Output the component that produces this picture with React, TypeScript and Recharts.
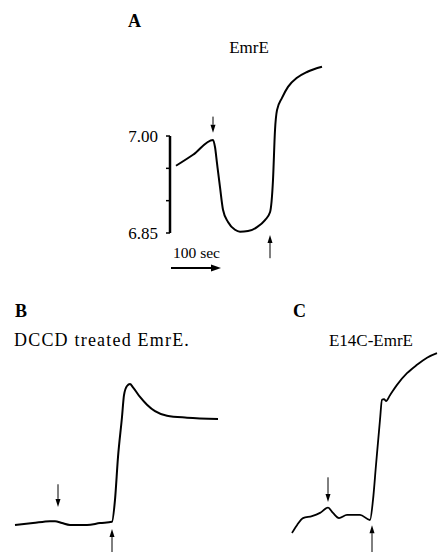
import React from 'react';
import { LineChart, Line, XAxis, YAxis, ReferenceLine } from 'recharts';

const FONT = '"Liberation Serif", "Times New Roman", serif';
const INK = '#000';

// Panel A - EmrE (time in sec, pH)
const emrTime = [12, 46, 86, 90, 94, 100, 106, 116, 130, 140, 156, 174, 190, 200, 206, 210, 214, 224, 236, 254, 274, 304];
const emrPH = [6.954, 6.971, 6.994, 6.983, 6.958, 6.921, 6.886, 6.867, 6.855, 6.852, 6.853, 6.859, 6.870, 6.882, 6.932, 7.009, 7.040, 7.059, 7.076, 7.090, 7.099, 7.107];
const emrTicks = [6.85, 6.9, 6.95, 7.0];
const emrLabels: Record<string, string> = { '7': '7.00', '6.85': '6.85' };

// Panel B - DCCD treated EmrE (time in sec, delta pH)
const dccdTime = [30, 66, 100, 110, 124, 140, 174, 200, 224, 230, 236, 244, 248, 254, 260, 266, 280, 294, 310, 334, 374, 436];
const dccdDelta = [0, 0.003, 0.006, 0.006, 0.003, 0, 0, 0.003, 0.005, 0.039, 0.105, 0.167, 0.201, 0.215, 0.218, 0.213, 0.198, 0.186, 0.176, 0.169, 0.166, 0.164];

// Panel C - E14C-EmrE (time in sec, delta pH)
const e14cTime = [104, 114, 126, 144, 160, 176, 186, 198, 214, 240, 260, 266, 272, 280, 284, 288, 292, 300, 314, 334, 354, 374, 394];
const e14cDelta = [-0.020, -0.008, 0.003, 0.006, 0.011, 0.019, 0.011, 0.003, 0.008, 0.008, 0, 0.031, 0.085, 0.155, 0.186, 0.187, 0.184, 0.193, 0.209, 0.227, 0.240, 0.251, 0.258];

// additions (arrow position in sec, arrow from / to value)
const arrowsA = [{ t: 86, from: 7.030, to: 7.005 }, { t: 200, from: 6.811, to: 6.847 }];
const arrowsB = [{ t: 116, from: 0.063, to: 0.028 }, { t: 224, from: -0.042, to: -0.006 }];
const arrowsC = [{ t: 176, from: 0.066, to: 0.028 }, { t: 264, from: -0.050, to: -0.008 }];

const toRows = (xs: number[], ys: number[]) => xs.map((t, i) => ({ t, v: ys[i] }));

const Arrow = (props: any) => {
  const { x1, y1, x2, y2, head = 8, half = 2.5, width = 1 } = props;
  const dx = x2 - x1, dy = y2 - y1;
  const len = Math.sqrt(dx * dx + dy * dy) || 1;
  const ux = dx / len, uy = dy / len;
  const bx = x2 - ux * head, by = y2 - uy * head;
  return (
    <g>
      <line x1={x1} y1={y1} x2={bx} y2={by} stroke={INK} strokeWidth={width} />
      <polygon
        points={`${x2},${y2} ${bx - uy * half},${by + ux * half} ${bx + uy * half},${by - ux * half}`}
        fill={INK}
      />
    </g>
  );
};

const ScaleBar = (props: any) => (
  <g>
    <Arrow {...props} head={10} half={3.5} width={2} />
    <text x={props.x1 + 2} y={props.y1 - 10} fontFamily={FONT} fontSize={15.5} fill={INK}>100 sec</text>
  </g>
);

const arrowLines = (list: { t: number; from: number; to: number }[]) =>
  list.map((a, i) => (
    <ReferenceLine
      key={`arr-${i}`}
      segment={[{ x: a.t, y: a.from }, { x: a.t, y: a.to }]}
      ifOverflow="visible"
      shape={(p: any) => <Arrow {...p} />}
    />
  ));

const Title = ({ x, y, children, bold = false, anchor = 'start', spacing = 0, size = 17 }: any) => (
  <text x={x} y={y} fontFamily={FONT} fontSize={size} fontWeight={bold ? 700 : 400}
    textAnchor={anchor} letterSpacing={spacing} fill={INK}>
    {children}
  </text>
);

export default function App() {
  const rowsA = toRows(emrTime, emrPH);
  const rowsB = toRows(dccdTime, dccdDelta);
  const rowsC = toRows(e14cTime, e14cDelta);
  return (
    <div style={{ position: 'absolute', left: 0, top: 0, width: 438, height: 552, background: '#fff', overflow: 'hidden' }}>
      <div style={{ position: 'absolute', left: 100, top: 40 }}>
        <LineChart width={230} height={240} data={rowsA} margin={{ top: 0, right: 0, bottom: 0, left: 0 }}>
          <XAxis type="number" dataKey="t" domain={[0, 320]} allowDataOverflow hide />
          <YAxis
            type="number"
            domain={[6.7773, 7.1485]}
            allowDataOverflow
            width={70}
            ticks={emrTicks}
            interval={0}
            axisLine={false}
            tickSize={4}
            tickMargin={8}
            tickLine={{ stroke: INK, strokeWidth: 1.5 }}
            tick={{ fontFamily: FONT, fontSize: 17, fill: INK }}
            tickFormatter={(v: number) => emrLabels[String(v)] || ''}
          />
          <ReferenceLine segment={[{ x: 0, y: 6.85 }, { x: 0, y: 7.0 }]} stroke={INK} strokeWidth={2.5} ifOverflow="visible" />
          <Line type="monotone" dataKey="v" stroke={INK} strokeWidth={2} dot={false} isAnimationActive={false} />
          {arrowLines(arrowsA)}
          <ReferenceLine
            segment={[{ x: 2, y: 6.796 }, { x: 102, y: 6.796 }]}
            ifOverflow="visible"
            shape={(p: any) => <ScaleBar {...p} />}
          />
        </LineChart>
      </div>

      <div style={{ position: 'absolute', left: 0, top: 360 }}>
        <LineChart width={230} height={192} data={rowsB} margin={{ top: 0, right: 0, bottom: 0, left: 0 }}>
          <XAxis type="number" dataKey="t" domain={[0, 460]} allowDataOverflow hide />
          <YAxis type="number" domain={[-0.04175, 0.2552]} allowDataOverflow hide />
          <Line type="monotone" dataKey="v" stroke={INK} strokeWidth={2} dot={false} isAnimationActive={false} />
          {arrowLines(arrowsB)}
        </LineChart>
      </div>

      <div style={{ position: 'absolute', left: 240, top: 340 }}>
        <LineChart width={198} height={212} data={rowsC} margin={{ top: 0, right: 0, bottom: 0, left: 0 }}>
          <XAxis type="number" dataKey="t" domain={[0, 396]} allowDataOverflow hide />
          <YAxis type="number" domain={[-0.0495, 0.2784]} allowDataOverflow hide />
          <Line type="monotone" dataKey="v" stroke={INK} strokeWidth={1.8} dot={false} isAnimationActive={false} />
          {arrowLines(arrowsC)}
        </LineChart>
      </div>

      <svg width={438} height={552} style={{ position: 'absolute', left: 0, top: 0, pointerEvents: 'none' }}>
        <Title x={128} y={27} bold size={18}>A</Title>
        <Title x={249} y={53} anchor="middle">EmrE</Title>
        <Title x={15} y={317} bold size={18}>B</Title>
        <Title x={14} y={346} spacing={1.2} size={18}>DCCD treated EmrE.</Title>
        <Title x={293} y={317} bold size={18}>C</Title>
        <Title x={371} y={346} anchor="middle">E14C-EmrE</Title>
      </svg>
    </div>
  );
}
